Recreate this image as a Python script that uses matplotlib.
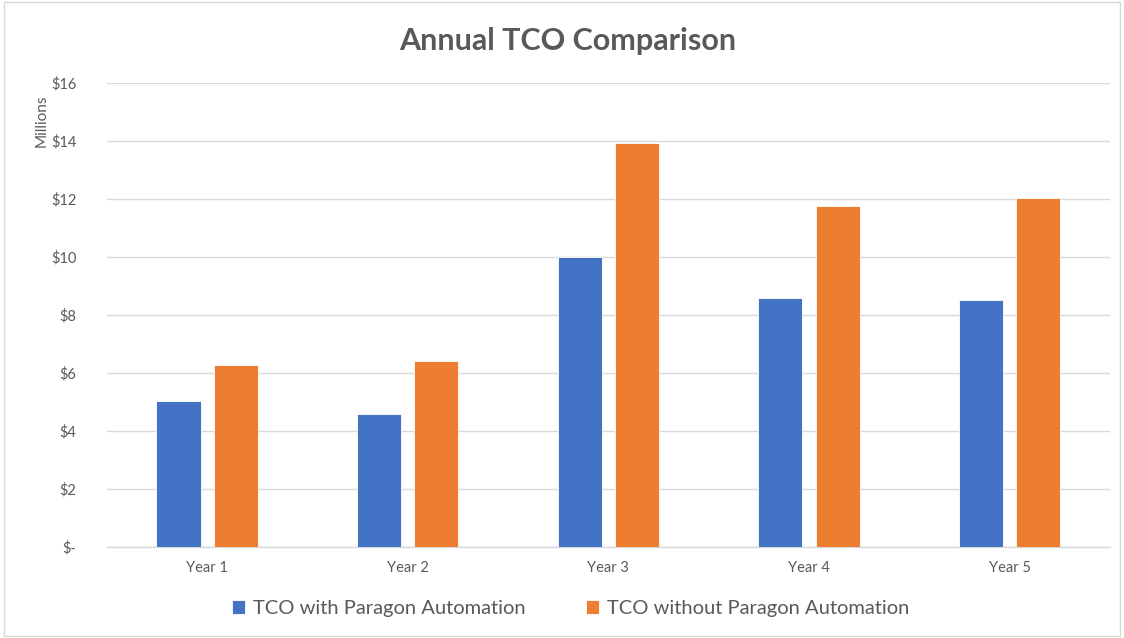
import matplotlib
matplotlib.use("Agg")
import matplotlib.pyplot as plt
import numpy as np
from matplotlib.patches import Rectangle

categories = ["Year 1", "Year 2", "Year 3", "Year 4", "Year 5"]
with_paragon = [5.03, 4.59, 10.0, 8.59, 8.52]
without_paragon = [6.28, 6.41, 13.93, 11.76, 12.03]
series_names = ["TCO with Paragon Automation", "TCO without Paragon Automation"]
ytick_vals = [0, 2, 4, 6, 8, 10, 12, 14, 16]
ytick_labels = ["$-", "$2", "$4", "$6", "$8", "$10", "$12", "$14", "$16"]

plt.rcParams['font.family'] = ['Lato', 'DejaVu Sans']
grey = "#595959"
blue = "#4472C4"
orange = "#ED7D31"

fig = plt.figure(figsize=(11.24, 6.38), dpi=100)
ax = fig.add_axes([0.095, 0.1426, 0.8925, 0.7273])

x = np.arange(len(categories))
w = 0.22
off = 0.1425
ax.bar(x - off, with_paragon, w, color=blue, edgecolor="white", linewidth=0.6, label=series_names[0], zorder=3)
ax.bar(x + off, without_paragon, w, color=orange, edgecolor="white", linewidth=0.6, label=series_names[1], zorder=3)

ax.set_xlim(-0.5, len(categories) - 0.5)
ax.set_ylim(0, 16)
ax.set_yticks(ytick_vals)
ax.set_yticklabels(ytick_labels)
ax.set_xticks(x)
ax.set_xticklabels(categories)
ax.grid(axis="y", color="#d9d9d9", linewidth=1.0, zorder=0)
for s in ["top", "right", "left"]:
    ax.spines[s].set_visible(False)
ax.spines["bottom"].set_color("#d9d9d9")
ax.spines["bottom"].set_linewidth(1.0)
ax.tick_params(axis="both", length=0, colors=grey, labelsize=10.5)
ax.tick_params(axis="y", pad=22)
ax.tick_params(axis="x", pad=10)

fig.text(0.505, 0.935, "Annual TCO Comparison", ha="center", va="center",
         fontsize=22, fontweight="bold", color=grey)
fig.text(0.037, 0.81, "Millions", rotation=90, ha="center", va="center",
         fontsize=11, color=grey)

leg = fig.legend(loc="center", bbox_to_anchor=(0.508, 0.046), ncol=2, frameon=False,
                 fontsize=14.5, handlelength=0.65, handleheight=0.65,
                 columnspacing=3.0, handletextpad=0.4)
for t in leg.get_texts():
    t.set_color(grey)

fig.patches.append(Rectangle((0.004, 0.003), 0.992, 0.994, transform=fig.transFigure,
                             fill=False, edgecolor="#d9d9d9", linewidth=1.0))

fig.savefig("out.png", dpi=100, facecolor="white")
